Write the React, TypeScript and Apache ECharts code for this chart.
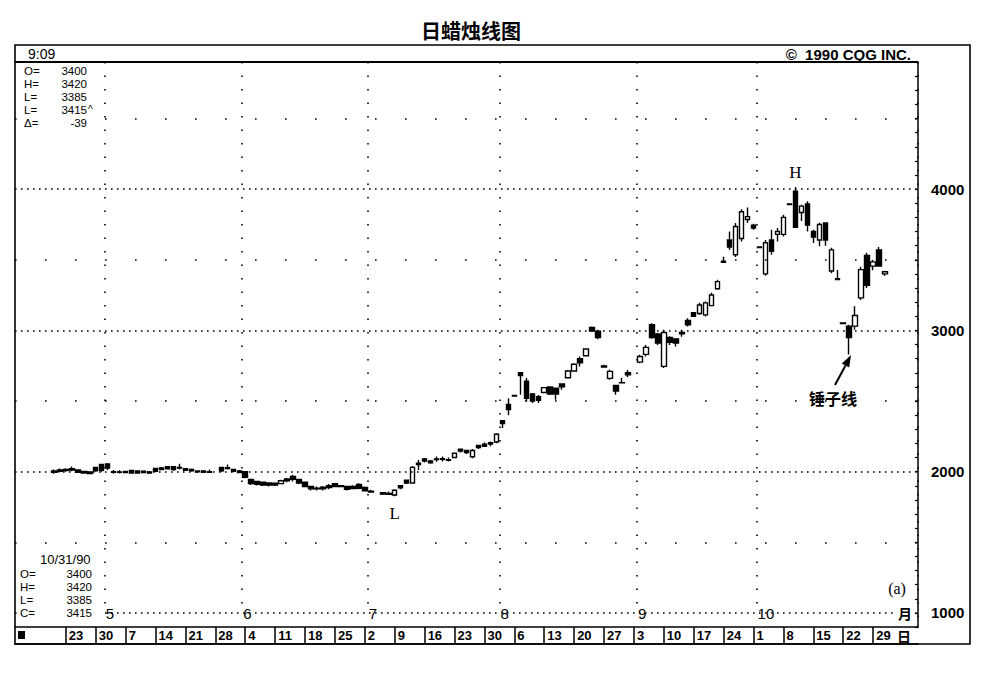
import React, { useEffect, useRef } from "react";
import * as echarts from "echarts";

const chartTitle = "日蜡烛线图";

// Weekdays of 1990 on the time axis
const aprDays = [11, 12, 13, 16, 17, 18, 19, 20, 23, 24, 25, 26, 27, 30];
const mayDays = [1, 2, 3, 4, 7, 8, 9, 10, 11, 14, 15, 16, 17, 18, 21, 22, 23, 24, 25, 28, 29, 30, 31];
const junDays = [1, 4, 5, 6, 7, 8, 11, 12, 13, 14, 15, 18, 19, 20, 21, 22, 25, 26, 27, 28, 29];
const julDays = [2, 3, 4, 5, 6, 9, 10, 11, 12, 13, 16, 17, 18, 19, 20, 23, 24, 25, 26, 27, 30, 31];
const augDays = [1, 2, 3, 6, 7, 8, 9, 10, 13, 14, 15, 16, 17, 20, 21, 22, 23, 24, 27, 28, 29, 30, 31];
const sepDays = [3, 4, 5, 6, 7, 10, 11, 12, 13, 14, 17, 18, 19, 20, 21, 24, 25, 26, 27, 28];
const octDays = [1, 2, 3, 4, 5, 8, 9, 10, 11, 12, 15, 16, 17, 18, 19, 22, 23, 24, 25, 26, 29, 30, 31];
const novDays = [1, 2, 5, 6, 7];

const weekLabelDates = [
  "4/23", "4/30", "5/7", "5/14", "5/21", "5/28", "6/4", "6/11", "6/18", "6/25",
  "7/2", "7/9", "7/16", "7/23", "7/30", "8/6", "8/13", "8/20", "8/27", "9/3",
  "9/10", "9/17", "9/24", "10/1", "10/8", "10/15", "10/22", "10/29",
];
const monthStartDates = ["5/1", "6/1", "7/2", "8/1", "9/3", "10/1"];
const firstBarDate = "4/19";

// Daily bars from 4/19, [open, high, low, close]; null = no trading (holiday)
const aprBars = [
  [2005, 2015, 1985, 1995], [2012, 2022, 1995, 2002], [2015, 2024, 2000, 2008], [2020, 2036, 2002, 2012],
  [2012, 2015, 1993, 1996], [2002, 2005, 1986, 1990], [1998, 2001, 1983, 1986], [2030, 2032, 2000, 2005],
];
const mayBars = [
  [2050, 2055, 1995, 2010], [2055, 2060, 2012, 2025], [1996, 2012, 1985, 2000], [1995, 2010, 1986, 1998],
  [2002, 2004, 1990, 1993], [2008, 2010, 1985, 1990], [2005, 2008, 1986, 1990], [2003, 2008, 1988, 1994],
  [1998, 2004, 1985, 1990], [2022, 2025, 1996, 2002], [2026, 2032, 2010, 2015], [2035, 2037, 2015, 2020],
  [2035, 2038, 2006, 2015], [2025, 2055, 2015, 2030], [2020, 2025, 2004, 2010], [2015, 2022, 2000, 2005],
  [2005, 2010, 1990, 1998], [2004, 2010, 1990, 1995], [1995, 2015, 1990, 2000], null,
  [2030, 2035, 1995, 2005], [2022, 2050, 2015, 2028], [2015, 2020, 1995, 2002],
];
const junBars = [
  [2005, 2012, 1988, 1993], [2000, 2005, 1953, 1960], [1945, 1948, 1905, 1915], [1930, 1935, 1902, 1910],
  [1925, 1928, 1898, 1905], [1920, 1925, 1895, 1905], [1918, 1922, 1898, 1905], [1915, 1942, 1910, 1935],
  [1948, 1955, 1925, 1935], [1965, 1977, 1930, 1945], [1945, 1947, 1913, 1920], [1925, 1930, 1890, 1895],
  [1895, 1899, 1866, 1878], [1878, 1895, 1866, 1882], [1890, 1899, 1866, 1878], [1900, 1913, 1876, 1888],
  [1915, 1918, 1890, 1895], [1895, 1905, 1890, 1900], [1895, 1899, 1866, 1875], [1895, 1904, 1875, 1880],
  [1910, 1918, 1876, 1882],
];
const julBars = [
  [1888, 1894, 1859, 1865], [1855, 1871, 1852, 1862], null, [1850, 1852, 1835, 1842],
  [1840, 1860, 1835, 1845], [1835, 1876, 1825, 1868], [1900, 1906, 1876, 1885], [1940, 1942, 1913, 1920],
  [1920, 2040, 1915, 2030], [2050, 2083, 2012, 2060], [2090, 2097, 2064, 2075], [2075, 2083, 2055, 2062],
  [2085, 2107, 2070, 2090], [2088, 2107, 2072, 2092], [2080, 2100, 2072, 2085], [2100, 2135, 2095, 2130],
  [2158, 2160, 2135, 2145], [2150, 2155, 2125, 2135], [2105, 2160, 2095, 2150], [2185, 2189, 2160, 2170],
  [2195, 2206, 2175, 2180], [2205, 2213, 2180, 2195],
];
const augBars = [
  [2210, 2272, 2201, 2265], [2360, 2366, 2308, 2340], [2475, 2520, 2400, 2440], [2540, 2545, 2530, 2535],
  [2700, 2700, 2545, 2680], [2640, 2662, 2496, 2520], [2550, 2556, 2485, 2500], [2530, 2543, 2485, 2505],
  [2560, 2598, 2556, 2595], [2600, 2603, 2543, 2550], [2590, 2592, 2508, 2550], [2620, 2626, 2579, 2600],
  [2665, 2720, 2662, 2712], [2712, 2768, 2708, 2760], [2800, 2815, 2744, 2770], [2820, 2874, 2815, 2868],
  [3020, 3027, 2990, 2995], [2995, 3004, 2938, 2950], [2740, 2757, 2735, 2748], [2660, 2722, 2650, 2710],
  [2610, 2615, 2545, 2570], [2630, 2664, 2625, 2628], [2700, 2720, 2668, 2685],
];
const sepBars = [
  null, [2775, 2827, 2768, 2815], [2830, 2897, 2815, 2880], [3040, 3051, 2940, 2950],
  [2975, 2982, 2897, 2910], [2745, 3004, 2733, 2985], [2950, 2958, 2897, 2915], [2940, 2945, 2885, 2910],
  [2975, 3004, 2955, 2985], [3070, 3086, 3027, 3040], [3125, 3128, 3095, 3100], [3120, 3195, 3110, 3180],
  [3110, 3205, 3098, 3195], [3175, 3266, 3170, 3250], [3295, 3358, 3287, 3345], [3482, 3522, 3480, 3490],
  [3640, 3700, 3570, 3590], [3535, 3760, 3520, 3735], [3650, 3858, 3630, 3840], [3785, 3870, 3760, 3805],
];
const octBars = [
  [3745, 3755, 3712, 3725], [3590, 3593, 3584, 3587], [3400, 3640, 3386, 3620], [3640, 3712, 3535, 3560],
  [3680, 3725, 3630, 3700], [3680, 3818, 3664, 3800], [3895, 3900, 3885, 3890], [3985, 4015, 3725, 3730],
  [3835, 3890, 3775, 3880], [3895, 3915, 3700, 3745], [3700, 3712, 3618, 3660], [3640, 3762, 3595, 3750],
  [3760, 3762, 3600, 3640], [3420, 3585, 3405, 3570], [3365, 3428, 3355, 3360], [3052, 3055, 3045, 3048],
  [3030, 3040, 2830, 2950], [3030, 3170, 3005, 3105], [3230, 3450, 3215, 3430], [3530, 3550, 3300, 3320],
  [3455, 3500, 3425, 3485], [3570, 3590, 3450, 3455], [3400, 3420, 3385, 3415],
];

const majorLevels = [1000, 2000, 3000, 4000];
const halfLevels = [1500, 2500, 3500, 4500];

const headerNames = ["O=", "H=", "L=", "L=", "Δ="];
const headerValues = ["3400", "3420", "3385", "3415", "-39"];
const quoteDate = "10/31/90";
const quoteNames = ["O=", "H=", "L=", "C="];
const quoteValues = ["3400", "3420", "3385", "3415"];
const highMarkDate = "10/10";
const lowMarkDate = "7/9";

const categories = [
  ...aprDays.map((d) => `4/${d}`),
  ...mayDays.map((d) => `5/${d}`),
  ...junDays.map((d) => `6/${d}`),
  ...julDays.map((d) => `7/${d}`),
  ...augDays.map((d) => `8/${d}`),
  ...sepDays.map((d) => `9/${d}`),
  ...octDays.map((d) => `10/${d}`),
  ...novDays.map((d) => `11/${d}`),
];

const bars: (number[] | null)[] = [...aprBars, ...mayBars, ...junBars, ...julBars, ...augBars, ...sepBars, ...octBars];
const barStart = categories.indexOf(firstBarDate);
const barOf = (date: string) => bars[categories.indexOf(date) - barStart];
const candleData = categories.map((_, i) => {
  const b = bars[i - barStart];
  return b ? [b[0], b[3], b[2], b[1]] : "-";
});

const weekSet = new Set(weekLabelDates);
const monthSet = new Set(monthStartDates);
const monthLineIdx = new Set(monthStartDates.map((d) => categories.indexOf(d) + 1));

const SANS = "Liberation Sans";
const CJK = "Noto Sans CJK SC";
const INFO_FONT = `11.5px ${SANS}`;
const INFO_LH = 13;

function txt(
  x: number,
  y: number,
  text: string,
  font: string,
  align = "left",
  vAlign = "middle",
  lineHeight?: number,
  z = 100
) {
  const style: any = {
    text,
    font,
    fill: "#000",
    align,
    textAlign: align,
    verticalAlign: vAlign,
    textVerticalAlign: vAlign,
  };
  if (lineHeight) style.lineHeight = lineHeight;
  return { type: "text", x, y, z, silent: true, style };
}

function line(x1: number, y1: number, x2: number, y2: number, w = 1.5, z = 90) {
  return {
    type: "line",
    z,
    silent: true,
    shape: { x1, y1, x2, y2 },
    style: { stroke: "#000", lineWidth: w },
  };
}

export default function App() {
  const ref = useRef<HTMLDivElement>(null);

  useEffect(() => {
    if (!ref.current) return;
    const chart = echarts.init(ref.current, null, { renderer: "svg" });

    const hi = barOf(highMarkDate) as number[];
    const lo = barOf(lowMarkDate) as number[];

    const option: any = {
      animation: false,
      textStyle: { fontFamily: SANS },
      grid: [
        { left: 15, width: 903, top: 62, height: 565, show: false },
        { left: 15, width: 903, top: 627, height: 17, show: false },
      ],
      xAxis: [
        {
          type: "category",
          gridIndex: 0,
          data: categories,
          boundaryGap: true,
          axisLine: { show: true, lineStyle: { color: "#000", width: 1.5 } },
          axisTick: { show: false },
          axisLabel: { show: false },
          splitLine: {
            show: true,
            interval: (i: number) => monthLineIdx.has(i),
            lineStyle: { color: "#000", width: 1.6, type: [1.6, 11.9] },
          },
        },
        {
          type: "category",
          gridIndex: 1,
          data: categories,
          boundaryGap: true,
          axisLine: { show: true, lineStyle: { color: "#000", width: 1.5 } },
          axisTick: {
            show: true,
            inside: true,
            length: 17,
            alignWithLabel: true,
            interval: (_: number, v: string) => weekSet.has(v),
            lineStyle: { color: "#000", width: 1.5 },
          },
          axisLabel: {
            show: true,
            inside: true,
            margin: 2,
            interval: (_: number, v: string) => weekSet.has(v),
            formatter: (v: string) => v.split("/")[1],
            align: "left",
            verticalAlign: "bottom",
            padding: [0, 0, 0, 3],
            fontSize: 13,
            fontWeight: "bold",
            color: "#000",
          },
          splitLine: { show: false },
        },
        {
          type: "category",
          gridIndex: 0,
          data: categories,
          position: "bottom",
          offset: -14,
          boundaryGap: true,
          axisLine: { show: false },
          axisTick: { show: false },
          axisLabel: {
            show: true,
            interval: (_: number, v: string) => monthSet.has(v),
            formatter: (v: string) => v.split("/")[0],
            margin: 0,
            align: "left",
            verticalAlign: "middle",
            padding: [1, 4, 1, 4],
            backgroundColor: "#fff",
            fontSize: 15,
            color: "#000",
          },
          splitLine: { show: false },
        },
      ],
      yAxis: [
        {
          type: "value",
          gridIndex: 0,
          position: "right",
          min: 900,
          max: 4900,
          interval: 100,
          axisLine: { show: true, lineStyle: { color: "#000", width: 1.5 } },
          axisTick: { show: true, inside: true, length: 3, lineStyle: { color: "#000", width: 1.2 } },
          axisLabel: {
            formatter: (v: number) => (majorLevels.includes(v) ? String(v) : ""),
            margin: 13,
            fontSize: 15,
            fontWeight: "bold",
            color: "#000",
          },
          splitLine: { show: false },
        },
        { type: "value", gridIndex: 1, show: false },
      ],
      series: [
        {
          type: "candlestick",
          xAxisIndex: 0,
          yAxisIndex: 0,
          data: candleData,
          barWidth: 5,
          itemStyle: {
            color: "#fff",
            color0: "#000",
            borderColor: "#000",
            borderColor0: "#000",
            borderWidth: 1.4,
          },
          markLine: {
            silent: true,
            symbol: ["none", "none"],
            label: { show: false },
            data: [
              ...majorLevels.map((v) => ({
                yAxis: v,
                lineStyle: { color: "#000", width: 1.6, type: [1.6, 4.4] },
              })),
              ...halfLevels.map((v) => ({
                yAxis: v,
                lineStyle: { color: "#000", width: 1.6, type: [1.6, 28.4] },
              })),
            ],
          },
          markPoint: {
            silent: true,
            symbol: "circle",
            symbolSize: 1,
            itemStyle: { color: "rgba(0,0,0,0)" },
            label: {
              show: true,
              fontFamily: "Liberation Serif",
              fontSize: 17,
              color: "#000",
            },
            data: [
              { coord: [highMarkDate, hi[1]], label: { formatter: "H", position: "top", distance: 6 } },
              { coord: [lowMarkDate, lo[2]], label: { formatter: "L", position: "bottom", distance: 8 } },
            ],
          },
        },
      ],
      graphic: [
        txt(471, 30, chartTitle, `bold 20px ${CJK}`, "center"),
        {
          type: "rect",
          z: 90,
          silent: true,
          shape: { x: 15, y: 45, width: 955, height: 599 },
          style: { fill: "none", stroke: "#000", lineWidth: 1.6 },
        },
        line(15, 62, 918, 62, 1.8),
        txt(28, 54, "9:09", `14px ${SANS}`),
        txt(911, 54, "©  1990 CQG INC.", `bold 15px ${SANS}`, "right"),
        {
          type: "rect",
          z: 95,
          silent: true,
          shape: { x: 17, y: 63.5, width: 84, height: 66 },
          style: { fill: "#fff" },
        },
        txt(24, 64, headerNames.join("\n"), INFO_FONT, "left", "top", INFO_LH),
        txt(87, 64, headerValues.join("\n"), INFO_FONT, "right", "top", INFO_LH),
        txt(88, 64 + 3 * INFO_LH + 1, "^", `10px ${SANS}`, "left", "top"),
        {
          type: "rect",
          z: 95,
          silent: true,
          shape: { x: 17, y: 551, width: 84, height: 75 },
          style: { fill: "#fff" },
        },
        txt(40, 559, quoteDate, `13px ${SANS}`),
        txt(20, 567, quoteNames.join("\n"), INFO_FONT, "left", "top", INFO_LH),
        txt(92, 567, quoteValues.join("\n"), INFO_FONT, "right", "top", INFO_LH),
        {
          type: "rect",
          z: 100,
          silent: true,
          shape: { x: 18, y: 631, width: 7, height: 8 },
          style: { fill: "#000" },
        },
        {
          type: "rect",
          z: 95,
          silent: true,
          shape: { x: 897, y: 605, width: 17, height: 16 },
          style: { fill: "#fff" },
        },
        txt(905, 613, "月", `bold 14px ${CJK}`, "center"),
        txt(904, 636, "日", `bold 14px ${CJK}`, "center"),
        txt(897, 588, "(a)", `16px Liberation Serif`, "center"),
        txt(833, 398, "锤子线", `bold 16px ${CJK}`, "center"),
        line(835, 385, 845.5, 365.5, 2),
        {
          type: "polygon",
          z: 100,
          silent: true,
          shape: { points: [[851, 355], [849.2, 367.6], [841.8, 363.6]] },
          style: { fill: "#000" },
        },
      ],
    };

    chart.setOption(option);
    return () => chart.dispose();
  }, []);

  return (
    <div
      ref={ref}
      style={{ position: "absolute", left: 0, top: 0, width: 998, height: 675, background: "#fff" }}
    />
  );
}
